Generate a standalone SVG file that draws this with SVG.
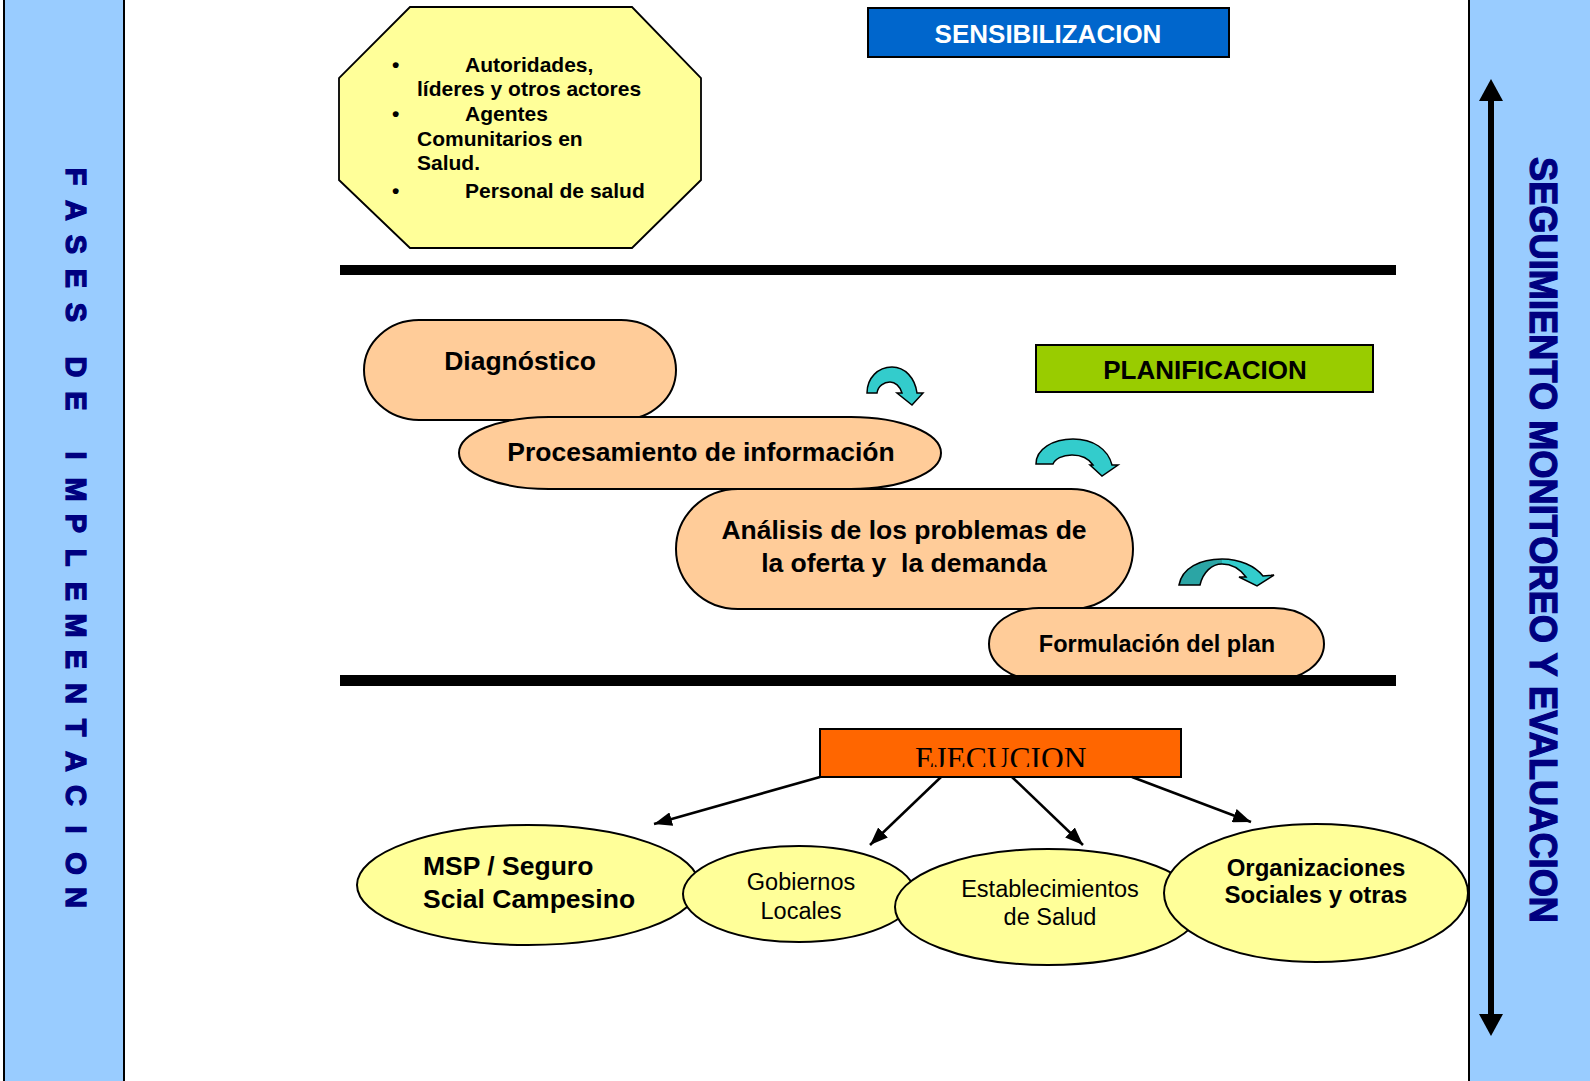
<svg xmlns="http://www.w3.org/2000/svg" width="1590" height="1081" viewBox="0 0 1590 1081">
<style>
.sans{font-family:"Liberation Sans",Arial,sans-serif}
.b{font-weight:bold}
.pill{fill:#FFCC99;stroke:#000;stroke-width:2}
.ell{fill:#FFFF99;stroke:#000;stroke-width:2}
.side{fill:#99CCFF;stroke:#000;stroke-width:2}
.navy{fill:#000080}
.teal{fill:#33CCCC;stroke:#000;stroke-width:1.5;stroke-linejoin:miter}
.conn{stroke:#000;stroke-width:2.5;fill:none}
</style>
<defs>
<marker id="ah" markerUnits="userSpaceOnUse" markerWidth="18" markerHeight="14" refX="18" refY="7" orient="auto">
<path d="M0,0 L18,7 L0,14 Z" fill="#000"/>
</marker>
<clipPath id="ejclip"><rect x="820" y="729" width="361" height="38"/></clipPath>
</defs>
<rect width="1590" height="1081" fill="#fff"/>

<g id="fases">
<rect class="side" x="4" y="-5" width="120" height="1092"/>
<text class="sans b navy" font-size="29" stroke="#000080" stroke-width="1.3" text-anchor="middle" transform="rotate(90)" y="-66" x="176.5 210.5 244.5 278.5 312.5 367 401 455.5 489.5 523.5 557.5 591.5 625.5 659.5 693.5 727.5 761.5 795.5 829.5 863.5 897.5">FASESDEIMPLEMENTACION</text>
</g>

<g id="seguimiento">
<rect class="side" x="1469" y="-5" width="130" height="1092"/>
<line x1="1491" y1="96" x2="1491" y2="1019" stroke="#000" stroke-width="6"/>
<path d="M1491,79 L1503,101 L1479,101 Z" fill="#000"/>
<path d="M1491,1036 L1503,1014 L1479,1014 Z" fill="#000"/>
<text class="sans b navy" font-size="38" stroke="#000080" stroke-width="1.2" transform="rotate(90)" x="157" y="-1530" textLength="766" lengthAdjust="spacingAndGlyphs">SEGUIMIENTO MONITOREO Y EVALUACION</text>
</g>

<g id="actores">
<polygon points="410,7 632,7 701,78 701,180 632,248 410,248 339,180 339,78" fill="#FFFF99" stroke="#000" stroke-width="1.8"/>
<g class="sans b" font-size="21">
<text x="392" y="72">•</text>
<text x="465" y="72">Autoridades,</text>
<text x="417" y="96">líderes y otros actores</text>
<text x="392" y="121">•</text>
<text x="465" y="121">Agentes</text>
<text x="417" y="146">Comunitarios en</text>
<text x="417" y="170">Salud.</text>
<text x="392" y="198">•</text>
<text x="465" y="198">Personal de salud</text>
</g>
</g>

<g id="sensibilizacion">
<rect x="868" y="8" width="361" height="49" fill="#0066CC" stroke="#000" stroke-width="2"/>
<text class="sans b" font-size="26" fill="#fff" x="1048" y="43" text-anchor="middle">SENSIBILIZACION</text>
</g>

<g id="planificacion">
<rect x="1036" y="345" width="337" height="47" fill="#99CC00" stroke="#000" stroke-width="2"/>
<text class="sans b" font-size="26" x="1205" y="379" text-anchor="middle">PLANIFICACION</text>
</g>

<g id="diagnostico">
<rect class="pill" x="364" y="320" width="312" height="100" rx="55" ry="50"/>
<text class="sans b" font-size="26.5" x="520" y="370" text-anchor="middle">Diagnóstico</text>
</g>
<g id="procesamiento">
<rect class="pill" x="459" y="417" width="482" height="72" rx="90" ry="36"/>
<text class="sans b" font-size="26.5" x="701" y="461" text-anchor="middle">Procesamiento de información</text>
</g>
<g id="analisis">
<rect class="pill" x="676" y="489" width="457" height="120" rx="62" ry="60"/>
<text class="sans b" font-size="26.5" x="904" y="539" text-anchor="middle">Análisis de los problemas de</text>
<text class="sans b" font-size="26.5" x="904" y="572" text-anchor="middle" xml:space="preserve">la oferta y  la demanda</text>
</g>
<g id="formulacion">
<rect class="pill" x="989" y="608" width="335" height="72" rx="50" ry="36"/>
<text class="sans b" font-size="23.5" x="1157" y="652" text-anchor="middle">Formulación del plan</text>
</g>

<g id="bars">
<rect x="340" y="265" width="1056" height="10" fill="#000"/>
<rect x="340" y="675" width="1056" height="11" fill="#000"/>
</g>

<g id="curved-arrows">
<path class="teal" d="M867,393 C867,378 878,367 892,367 C905,367 915,378 917,393 L923,393 L912,405 L897,393 L902,393 C900,386 895,382 890,382 C884,382 878,386 877,393 Z"/>
<path class="teal" d="M1036,464 C1036,449 1053,439 1073,439 C1093,439 1108,449 1112,465 L1118,465 L1102,476 L1090,465 L1093,465 C1089,459 1081,455 1072,455 C1062,455 1055,459 1053,464 Z"/>
<path d="M1179,585 C1182,568 1200,559 1222,559 L1222,564 C1212,564 1203,572 1200,585 Z" fill="#2BA5A5"/>
<path d="M1222,559 C1240,559 1255,566 1263,576 L1274,575 L1257,586 L1239,577 L1246,577 C1240,569 1232,564 1222,564 Z" fill="#33CCCC"/>
<path d="M1179,585 C1182,568 1200,559 1222,559 C1240,559 1255,566 1263,576 L1274,575 L1257,586 L1239,577 L1246,577 C1240,569 1232,564 1222,564 C1212,564 1203,572 1200,585 Z" fill="none" stroke="#000" stroke-width="1.5"/>
</g>

<g id="ejecucion">
<rect x="820" y="729" width="361" height="48" fill="#FF6600" stroke="#000" stroke-width="2"/>
<text clip-path="url(#ejclip)" font-family="'Liberation Serif','Times New Roman',serif" font-size="31.5" x="915" y="769">EJECUCION</text>
</g>

<g id="connectors">
<line class="conn" x1="820" y1="777" x2="654" y2="824" marker-end="url(#ah)"/>
<line class="conn" x1="941" y1="777" x2="870" y2="845" marker-end="url(#ah)"/>
<line class="conn" x1="1012" y1="777" x2="1083" y2="845" marker-end="url(#ah)"/>
<line class="conn" x1="1132" y1="777" x2="1251" y2="822" marker-end="url(#ah)"/>
</g>

<g id="msp">
<ellipse class="ell" cx="528" cy="885" rx="171" ry="60"/>
<text class="sans b" font-size="26.5" x="423" y="875">MSP / Seguro</text>
<text class="sans b" font-size="26.5" x="423" y="908">Scial Campesino</text>
</g>
<g id="gobiernos">
<ellipse class="ell" cx="799" cy="894" rx="116" ry="48"/>
<text class="sans" font-size="23.5" x="801" y="890" text-anchor="middle">Gobiernos</text>
<text class="sans" font-size="23.5" x="801" y="919" text-anchor="middle">Locales</text>
</g>
<g id="establecimientos">
<ellipse class="ell" cx="1048" cy="907" rx="153" ry="58"/>
<text class="sans" font-size="23.5" x="1050" y="897" text-anchor="middle">Establecimientos</text>
<text class="sans" font-size="23.5" x="1050" y="925" text-anchor="middle">de Salud</text>
</g>
<g id="organizaciones">
<ellipse class="ell" cx="1316" cy="893" rx="152" ry="69"/>
<text class="sans b" font-size="24" x="1316" y="876" text-anchor="middle">Organizaciones</text>
<text class="sans b" font-size="24" x="1316" y="903" text-anchor="middle">Sociales y otras</text>
</g>
</svg>
